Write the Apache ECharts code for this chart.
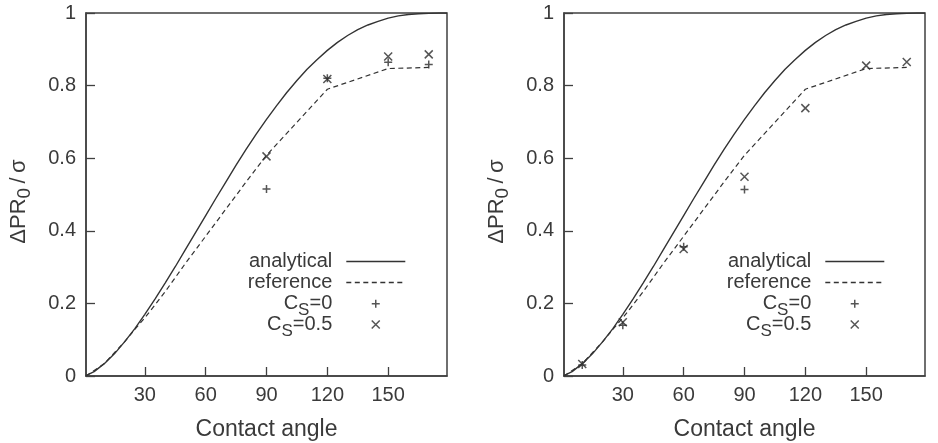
<!DOCTYPE html>
<html>
<head>
<meta charset="utf-8">
<script src="https://cdn.jsdelivr.net/npm/echarts@6/dist/echarts.min.js"></script>
<style>
  html, body { margin: 0; padding: 0; background: #fff; }
  #chart { width: 938px; height: 443px; }
</style>
</head>
<body>
<div id="chart"></div>
<script>
var angleTicks = [30, 60, 90, 120, 150];

// solid curve, every 5 degrees
var analyticalAngles = [1, 5, 10, 15, 20, 25, 30, 35, 40, 45, 50, 55, 60, 65, 70, 75, 80, 85, 90,
  95, 100, 105, 110, 115, 120, 125, 130, 135, 140, 145, 150, 155, 160, 165, 170, 175, 179];
var analyticalValues = [0.001, 0.012, 0.034, 0.061, 0.094, 0.130, 0.170, 0.212, 0.256, 0.301, 0.348,
  0.395, 0.442, 0.489, 0.535, 0.581, 0.625, 0.667, 0.707, 0.745, 0.781, 0.814, 0.845, 0.872, 0.897,
  0.919, 0.938, 0.954, 0.967, 0.977, 0.986, 0.992, 0.996, 0.998, 0.999, 1.0, 1.0];

// dashed curve
var referenceAngles = [1, 10, 20, 25, 30, 40, 50, 60, 70, 80, 90, 120, 150, 170];
var referenceValues = [0.0, 0.034, 0.094, 0.128, 0.160, 0.232, 0.310, 0.385, 0.460, 0.535, 0.608,
  0.790, 0.847, 0.850];

// left panel points
var leftCs0Angles = [90, 120, 150, 170];
var leftCs0Values = [0.515, 0.820, 0.864, 0.858];
var leftCs05Angles = [90, 120, 150, 170];
var leftCs05Values = [0.605, 0.818, 0.880, 0.886];

// right panel points
var rightCs0Angles = [10, 30, 60, 90];
var rightCs0Values = [0.030, 0.140, 0.356, 0.514];
var rightCs05Angles = [10, 30, 60, 90, 120, 150, 170];
var rightCs05Values = [0.033, 0.148, 0.350, 0.549, 0.738, 0.855, 0.865];

var lineNames = ['analytical', 'reference'];
var pointNames = ['CS=0', 'CS=0.5'];

(function () {
  'use strict';

  var ink = '#3a3a3a';
  var font = 'Liberation Sans, Arial, sans-serif';
  var plusPath = 'path://M0,0M20,20M6,10L14,10M10,6L10,14';
  var crossPath = 'path://M0,0M20,20M6,6L14,14M14,6L6,14';

  function pairs(xs, ys) {
    var out = [];
    for (var i = 0; i < xs.length; i += 1) {
      out.push([xs[i], ys[i]]);
    }
    return out;
  }

  function lineLegendData() {
    var out = [];
    for (var i = 0; i < lineNames.length; i += 1) {
      // line icons come with a dot in the middle, hide it
      out.push({ name: lineNames[i], itemStyle: { opacity: 0, color: 'rgba(0,0,0,0)', borderWidth: 0 } });
    }
    return out;
  }

  function subRich(size) {
    return {
      n: { fontSize: size, lineHeight: 21, color: ink, fontFamily: font },
      s: { fontSize: size - 3, height: 8, lineHeight: 8, verticalAlign: 'bottom', color: ink, fontFamily: font }
    };
  }

  function makeGrid(left) {
    return {
      left: left,
      top: 13,
      width: 361,
      height: 363,
      show: true,
      borderColor: '#404040',
      borderWidth: 1.5,
      backgroundColor: 'transparent',
      containLabel: false,
      outerBoundsMode: 'none'
    };
  }

  function makeXAxis(gridIndex) {
    return {
      type: 'value',
      gridIndex: gridIndex,
      min: 1,
      max: 179,
      name: 'Contact angle',
      nameLocation: 'middle',
      nameGap: 42,
      nameTextStyle: { fontSize: 23, color: ink, fontFamily: font },
      axisLine: { show: true, lineStyle: { color: '#404040', width: 1.5 } },
      axisTick: { show: true, inside: true, length: 9, customValues: angleTicks, lineStyle: { color: '#404040', width: 1.3 } },
      axisLabel: { show: true, customValues: angleTicks, fontSize: 20, margin: 9, color: ink, fontFamily: font },
      splitLine: { show: false }
    };
  }

  function makeYAxis(gridIndex) {
    return {
      type: 'value',
      gridIndex: gridIndex,
      min: 0,
      max: 1,
      interval: 0.2,
      name: '{n|ΔPR}{s|0}{n|\u2009/\u2009σ}',
      nameLocation: 'middle',
      nameRotate: 90,
      nameGap: 57,
      nameTextStyle: {
        color: ink,
        fontFamily: font,
        fontSize: 22,
        padding: [0, 14, 0, 0],
        rich: subRich(22)
      },
      axisLine: { show: true, lineStyle: { color: '#404040', width: 1.5 } },
      axisTick: { show: true, inside: true, length: 9, lineStyle: { color: '#404040', width: 1.3 } },
      axisLabel: {
        fontSize: 20,
        margin: 10,
        color: ink,
        fontFamily: font,
        formatter: function (v) {
          return String(+v.toFixed(1));
        }
      },
      splitLine: { show: false }
    };
  }

  function makeLegend(right, top, data, gap) {
    return {
      orient: 'vertical',
      align: 'right',
      right: right,
      top: top,
      padding: 0,
      itemWidth: 59,
      itemHeight: 20,
      itemGap: gap,
      selectedMode: false,
      data: data,
      itemStyle: { borderWidth: 1.5 },
      lineStyle: { width: 1.4 },
      formatter: function (name) {
        if (name.indexOf('CS') === 0) {
          return '{n|C}{s|S}{n|' + name.slice(2) + '}';
        }
        return '{n|' + name + '}';
      },
      textStyle: {
        fontSize: 20,
        lineHeight: 21,
        color: ink,
        fontFamily: font,
        padding: [0, 9, 0, 0],
        rich: subRich(20)
      }
    };
  }

  function lineSeries(name, idx, xs, ys, dashed) {
    return {
      name: name,
      type: 'line',
      xAxisIndex: idx,
      yAxisIndex: idx,
      data: pairs(xs, ys),
      symbol: 'none',
      smooth: false,
      silent: true,
      lineStyle: { color: '#333', width: dashed ? 1.2 : 1.4, type: dashed ? [5, 3.5] : 'solid' },
      itemStyle: { color: '#333' }
    };
  }

  function pointSeries(name, idx, xs, ys, path) {
    return {
      name: name,
      type: 'scatter',
      xAxisIndex: idx,
      yAxisIndex: idx,
      data: pairs(xs, ys),
      symbol: path,
      symbolSize: 20,
      silent: true,
      itemStyle: { color: 'rgba(0,0,0,0)', borderColor: '#2a2a2a', borderWidth: 1.5 }
    };
  }

  // the marker legends only measure the 20px icon, not the 59px slot
  var markerShift = 19.5;

  var chart = echarts.init(document.getElementById('chart'));
  chart.setOption({
    animation: false,
    backgroundColor: '#fff',
    textStyle: { fontFamily: font },
    grid: [makeGrid(86), makeGrid(564)],
    xAxis: [makeXAxis(0), makeXAxis(1)],
    yAxis: [makeYAxis(0), makeYAxis(1)],
    legend: [
      makeLegend(532, 251, lineLegendData(), 0),
      makeLegend(532 + markerShift, 293, pointNames, -5),
      makeLegend(53, 251, lineLegendData(), 0),
      makeLegend(53 + markerShift, 293, pointNames, -5)
    ],
    series: [
      lineSeries('analytical', 0, analyticalAngles, analyticalValues, false),
      lineSeries('reference', 0, referenceAngles, referenceValues, true),
      pointSeries('CS=0', 0, leftCs0Angles, leftCs0Values, plusPath),
      pointSeries('CS=0.5', 0, leftCs05Angles, leftCs05Values, crossPath),
      lineSeries('analytical', 1, analyticalAngles, analyticalValues, false),
      lineSeries('reference', 1, referenceAngles, referenceValues, true),
      pointSeries('CS=0', 1, rightCs0Angles, rightCs0Values, plusPath),
      pointSeries('CS=0.5', 1, rightCs05Angles, rightCs05Values, crossPath)
    ]
  });
})();
</script>
</body>
</html>
